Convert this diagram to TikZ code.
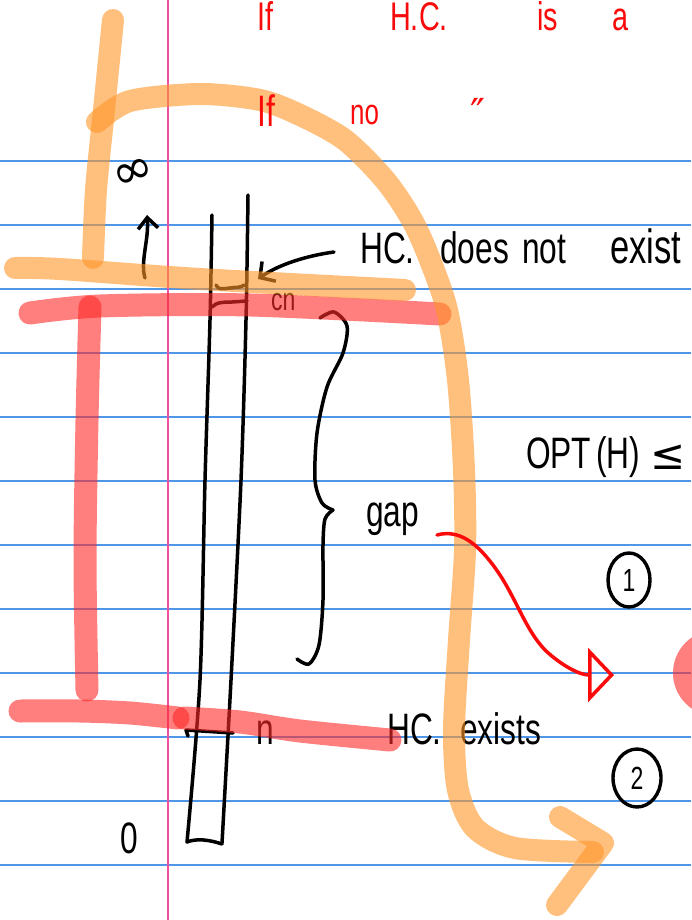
\documentclass[tikz,border=0pt]{standalone}
\usepackage{fontspec}
\setmainfont[FakeStretch=0.72]{Liberation Sans}
\newfontfamily\symf{DejaVu Sans}
\usetikzlibrary{arrows.meta,shapes.geometric}
\definecolor{ruleblue}{RGB}{80,150,230}
\definecolor{marginpink}{RGB}{235,80,165}
\definecolor{hlorange}{RGB}{255,150,40}
\definecolor{hlred}{RGB}{255,40,40}
\definecolor{penred}{RGB}{250,10,10}
\begin{document}
\begin{tikzpicture}[x=1pt,y=-1pt,
  rule/.style={ruleblue,line width=1.3pt},
  ink/.style={black,line width=3.5pt,line cap=round,line join=round},
  redink/.style={penred,line width=3.5pt,line cap=round,line join=round},
  hlo/.style={hlorange,opacity=0.6,line width=22pt,line cap=round,line join=round},
  hlr/.style={hlred,opacity=0.6,line width=23pt,line cap=round,line join=round},
  txt/.style={anchor=base west,inner sep=0pt,font=\fontsize{44}{44}\selectfont},
  rtxt/.style={txt,text=penred},
  circ/.style={draw,ellipse,line width=3.4pt,inner sep=0pt,font=\fontsize{32}{32}\selectfont}
]
\fill[white] (0,0) rectangle (691,920);
\useasboundingbox (0,0) rectangle (691,920);
% ruled paper
\foreach \yy in {161,225,...,865} \draw[rule] (0,\yy) -- (691,\yy);
\draw[marginpink,line width=1.3pt] (168,0) -- (168,920);

% the strip
\draw[ink] plot[smooth] coordinates {(212,215) (210,320) (205,480) (200,680) (187,842)};
\draw[ink] plot[smooth] coordinates {(248,195) (246,320) (241,480) (231,680) (222,843)};
\draw[ink] (187,842) .. controls (197,838) and (210,840) .. (222,844);
\draw[ink] (216,285) .. controls (218,290) and (222,289) .. (230,288) .. controls (236,287) and (241,288) .. (244,285);
\draw[ink] (212,307) .. controls (216,302) and (225,302) .. (232,302) -- (247,301);
\draw[ink] (188,736) -- (186,730) -- (233,733);

% infinity and up arrow
\node[inner sep=0pt,rotate=20,font=\symf\fontsize{50}{50}\selectfont] (inf) at (134,174) {∞};
\coordinate (upfoot) at (145,278);
\coordinate (uptip) at (147,215);
\draw[ink,-{Straight Barb[length=11pt,width=20pt]}] (upfoot) .. controls (140,262) and (149,240) .. (uptip);

% black texts
\node[txt] (hc1) at (360,263) {HC.};
\node[txt] (does) at (440,263) {does};
\node[txt] (not) at (522,263) {not};
\node[txt,font=\fontsize{48}{48}\selectfont] (exist) at (610,263) {exist};
\coordinate (hcstart) at (334,252);
\coordinate (hctip) at (258,279);
\draw[ink,-{Straight Barb[length=11pt,width=24pt]}] (hcstart) .. controls (305,256) and (278,265) .. (hctip);
\node[txt,font=\fontsize{32}{32}\selectfont] (cn) at (271,310) {cn};

% brace and gap
\draw[ink] plot[smooth] coordinates {(320,318) (334,312) (347,326) (343,353) (327,387) (317,433) (315,480) (322,503) (333,510)};
\draw[ink] plot[smooth] coordinates {(333,510) (325,519) (323,545) (323,600) (319,645) (309,664) (297,659)};
\node[txt] (gap) at (366,526) {gap};

\node[txt] (opt) at (526,468) {OPT};
\node[txt] (hpar) at (596,468) {(H)};
\node[txt,font=\symf\fontsize{42}{42}\selectfont] (leq) at (650,469) {≤};

\node[circ,minimum width=42pt,minimum height=54pt] (one) at (629,580) {1};
\node[circ,minimum width=48pt,minimum height=58pt] (two) at (637,778) {2};

\node[txt] (nlab) at (256,744) {n};
\node[txt] (hc2) at (387,744) {HC.};
\node[txt] (exists) at (460,744) {exists};
\node[txt] (zero) at (120,853) {0};

% red highlighter
\draw[hlr] plot[smooth] coordinates {(30,313) (100,306) (250,305) (440,314)};
\draw[hlr] plot[smooth] coordinates {(90,307) (87,420) (85,560) (87,690)};
\draw[hlr] plot[smooth] coordinates {(20,711) (80,711) (130,713) (178,718)};
\draw[hlr] plot[smooth] coordinates {(184,718) (240,722) (300,731) (390,740)};
\fill[hlred,opacity=0.6] (716,673) circle[radius=43pt];

% orange highlighter
\draw[hlo] plot[smooth] coordinates {(113,20) (104,110) (96,190) (93,258)};
\draw[hlo] plot[smooth] coordinates {(15,268) (60,269) (200,279) (405,290)};
\draw[hlo] plot[smooth] coordinates {(97,122) (130,101) (200,94) (260,100) (300,115) (345,140) (385,180) (412,220) (430,260) (447,310) (458,380) (464,470) (465,550) (459,640) (454,730) (458,790) (475,828) (515,848) (593,852)};
\draw[hlo] (560,817) -- (603,843) -- (557,905);

% red pen
\node[rtxt,font=\fontsize{40}{40}\selectfont] (rif1) at (257,31) {If};
\node[rtxt,font=\fontsize{40}{40}\selectfont] (rhc) at (390,31) {H.C.};
\node[rtxt,font=\fontsize{40}{40}\selectfont] (ris) at (537,31) {is};
\node[rtxt,font=\fontsize{40}{40}\selectfont] (ra) at (612,31) {a};
\node[rtxt] (rif2) at (257,127) {If};
\node[rtxt,font=\fontsize{36}{36}\selectfont] (rno) at (350,125) {no};
\node[rtxt,font=\symf\fontsize{40}{40}\selectfont] (rditto) at (470,128) {″};
\coordinate (gapout) at (437,535);
\coordinate (redtip) at (614,675);
\draw[redink,-{Triangle[open,length=26pt,width=54pt]}] (gapout) .. controls (462,528) and (482,548) .. (500,575) .. controls (518,603) and (526,630) .. (545,650) .. controls (562,666) and (580,675) .. (redtip);
\end{tikzpicture}
\end{document}
